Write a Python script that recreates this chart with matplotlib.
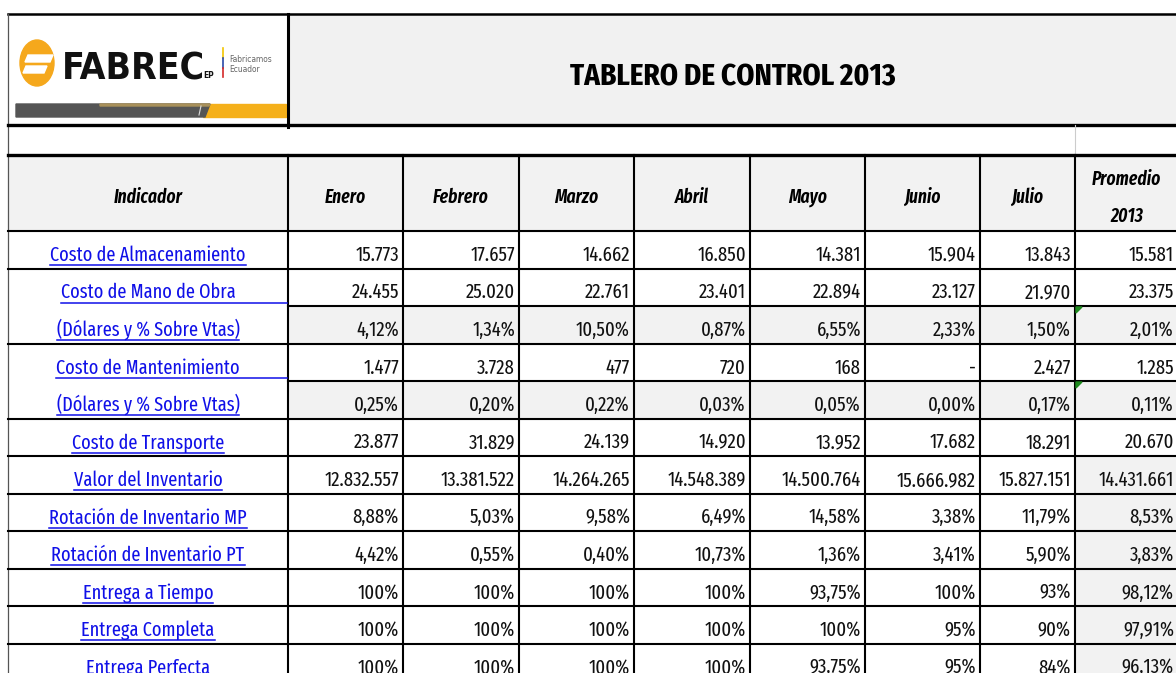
import matplotlib.pyplot as plt
from matplotlib.patches import Rectangle, Ellipse, Polygon

plt.rcParams['font.family'] = ['Fira Sans Extra Condensed', 'Carlito', 'DejaVu Sans']

title = "TABLERO DE CONTROL 2013"
months = ["Enero", "Febrero", "Marzo", "Abril", "Mayo", "Junio", "Julio"]
avg_label = ["Promedio", "2013"]

indicators = ["Costo de Almacenamiento", "Costo de Mano de Obra ",
              "(Dólares y % Sobre Vtas)", "Costo de Mantenimiento",
              "(Dólares y % Sobre Vtas)", "Costo de Transporte",
              "Valor del Inventario", "Rotación de Inventario MP",
              "Rotación de Inventario PT", "Entrega a Tiempo",
              "Entrega Completa", "Entrega Perfecta"]

# Enero .. Julio, Promedio 2013
costo_almacen = ["15.773", "17.657", "14.662", "16.850", "14.381", "15.904", "13.843", "15.581"]
costo_mano_obra = ["24.455", "25.020", "22.761", "23.401", "22.894", "23.127", "21.970", "23.375"]
mano_obra_pct = ["4,12%", "1,34%", "10,50%", "0,87%", "6,55%", "2,33%", "1,50%", "2,01%"]
costo_mant = ["1.477", "3.728", "477", "720", "168", "-", "2.427", "1.285"]
mant_pct = ["0,25%", "0,20%", "0,22%", "0,03%", "0,05%", "0,00%", "0,17%", "0,11%"]
costo_transp = ["23.877", "31.829", "24.139", "14.920", "13.952", "17.682", "18.291", "20.670"]
valor_inv = ["12.832.557", "13.381.522", "14.264.265", "14.548.389", "14.500.764",
             "15.666.982", "15.827.151", "14.431.661"]
rot_mp = ["8,88%", "5,03%", "9,58%", "6,49%", "14,58%", "3,38%", "11,79%", "8,53%"]
rot_pt = ["4,42%", "0,55%", "0,40%", "10,73%", "1,36%", "3,41%", "5,90%", "3,83%"]
entrega_tiempo = ["100%", "100%", "100%", "100%", "93,75%", "100%", "93%", "98,12%"]
entrega_completa = ["100%", "100%", "100%", "100%", "100%", "95%", "90%", "97,91%"]
entrega_perfecta = ["100%", "100%", "100%", "100%", "93,75%", "95%", "84%", "96,13%"]

values = [costo_almacen, costo_mano_obra, mano_obra_pct, costo_mant, mant_pct,
          costo_transp, valor_inv, rot_mp, rot_pt, entrega_tiempo,
          entrega_completa, entrega_perfecta]
pct_rows = [2, 4]           # grey "% sobre ventas" rows
merged_top = [1, 3]         # label cells merged with the row below
grey_avg_from = 6

# layout (pixels)
W, H = 1176, 673
col_x = [8, 288, 403, 519, 634, 750, 865, 980, 1075, 1178]
head_top, head_bot = 155, 231
row_h = 37.5
grey = '#f2f2f2'
link = '#1010e8'

fig = plt.figure(figsize=(W / 100, H / 100), dpi=100)
ax = fig.add_axes([0, 0, 1, 1])
ax.set_xlim(0, W)
ax.set_ylim(H, 0)
ax.axis('off')
renderer = fig.canvas.get_renderer()


def fit_size(s, width_px, **kw):
    # font size that makes string s about width_px wide
    t = ax.text(0, 0, s, fontsize=10, **kw)
    w = t.get_window_extent(renderer).width
    t.remove()
    return 10 * width_px / w


fs_body = fit_size("12.832.557", 74)
fs_label = fit_size("Costo de Almacenamiento", 196)
fs_head = fit_size("Indicador", 69, fontweight=600, style='italic')
fs_title = fit_size(title, 325, fontweight='bold')
logo_kw = dict(family='DejaVu Sans', fontstretch='condensed', fontweight='bold')
fs_logo = fit_size("FABREC", 142, **logo_kw)

# title box
ax.add_patch(Rectangle((288, 14), W - 288, 111, color='#f1f1f1', zorder=0))
ax.text(733, 86, title, ha='center', va='baseline', fontsize=fs_title, fontweight='bold')

# logo
ax.add_patch(Ellipse((37, 63), 34, 46, color='#f5a81c', zorder=2))
ax.add_patch(Polygon([(28, 55), (53, 55), (50, 62), (25, 62)], color='white', zorder=3))
ax.add_patch(Polygon([(26, 66), (47, 66), (44, 73), (23, 73)], color='white', zorder=3))
ax.text(62, 79, "FABREC", ha='left', va='baseline', fontsize=fs_logo, color='#111111',
        **logo_kw)
ax.text(203, 78, "EP", ha='left', va='baseline', fontsize=6, color='#111111', **logo_kw)
ax.plot([223, 223], [48, 58], color='#f2c500', lw=1.2)
ax.plot([223, 223], [58, 68], color='#2a4aa8', lw=1.2)
ax.plot([223, 223], [68, 77], color='#d42a2a', lw=1.2)
ax.text(229, 59, "Fabricamos", ha='left', va='center', fontsize=6,
        family='DejaVu Sans', fontstretch='condensed', color='#666666')
ax.text(229, 70, "Ecuador", ha='left', va='center', fontsize=6,
        family='DejaVu Sans', fontstretch='condensed', color='#666666')
ax.add_patch(Polygon([(208, 104), (286, 104), (286, 117), (203, 117)], color='#f5b01a'))
ax.add_patch(Polygon([(16, 104), (210, 104), (205, 117), (16, 117)], color='#555555'))
ax.add_patch(Polygon([(100, 104), (210, 104), (209, 106), (100, 106)], color='#a8905a'))
ax.plot([201, 199], [106, 115], color='#dddddd', lw=0.8)

# header row
ax.add_patch(Rectangle((col_x[0], head_top), W, head_bot - head_top, color=grey, zorder=0))
hdr_base = 203
hkw = dict(ha='center', va='baseline', fontsize=fs_head, fontweight=600, style='italic')
ax.text((col_x[0] + col_x[1]) / 2, hdr_base, "Indicador", **hkw)
for i, m in enumerate(months):
    ax.text((col_x[i + 1] + col_x[i + 2]) / 2, hdr_base, m, **hkw)
ax.text((col_x[8] + col_x[9]) / 2, 185, avg_label[0], **hkw)
ax.text((col_x[8] + col_x[9]) / 2, 222, avg_label[1], **hkw)

# body
labels = []
for r, (name, vals) in enumerate(zip(indicators, values)):
    top = head_bot + r * row_h
    if r in pct_rows:
        ax.add_patch(Rectangle((col_x[1], top), W, row_h, color=grey, zorder=0))
    elif r >= grey_avg_from:
        ax.add_patch(Rectangle((col_x[8], top), W, row_h, color=grey, zorder=0))
    base = top + 30
    t = ax.text((col_x[0] + col_x[1]) / 2, base, name.strip(), ha='center', va='baseline',
                fontsize=fs_label, color=link)
    labels.append((r, t, base))
    for c, v in enumerate(vals):
        ax.text(col_x[c + 2] - 4, base, v, ha='right', va='baseline', fontsize=fs_body,
                color='#111111')
    if r in pct_rows:
        ax.add_patch(Polygon([(col_x[8] + 1, top + 1), (col_x[8] + 7, top + 1),
                              (col_x[8] + 1, top + 7)], color='#1e8a1e', zorder=5))

# grid lines
n = len(indicators)
ax.plot([col_x[0], W], [14, 14], color='black', lw=1.8)
ax.plot([col_x[0], col_x[0]], [14, H], color='#555555', lw=0.9)
ax.plot([col_x[1], col_x[1]], [14, 127], color='black', lw=2.2)
ax.plot([col_x[0], W], [125, 125], color='black', lw=2.4)
ax.plot([col_x[8], col_x[8]], [125, 155], color='#cccccc', lw=0.8)
ax.plot([col_x[0], W], [head_top, head_top], color='black', lw=2.4)
for x in col_x[1:-1]:
    ax.plot([x, x], [head_top, H], color='black', lw=1.5)
for r in range(n + 1):
    y = head_bot + r * row_h
    x0 = col_x[1] if (r - 1) in merged_top else col_x[0]
    ax.plot([x0, W], [y, y], color='black', lw=1.5)

# underlines for the link-style labels
fig.canvas.draw()
inv = ax.transData.inverted()
for r, t, base in labels:
    bb = t.get_window_extent()
    (x0, _), (x1, _) = inv.transform([[bb.x0, bb.y0], [bb.x1, bb.y1]])
    if r in merged_top:
        x1 = col_x[1] - 1
    ax.plot([x0, x1], [base + 4, base + 4], color=link, lw=1.1)

fig.savefig('out.png', dpi=100)
